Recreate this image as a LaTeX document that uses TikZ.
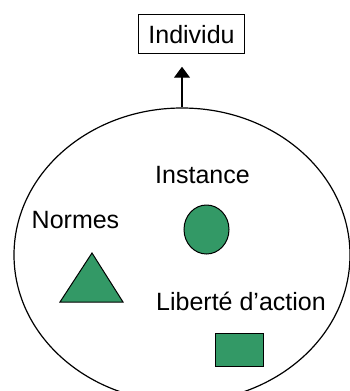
\documentclass[tikz,border=0pt]{standalone}
\usepackage{fontspec}
\setmainfont{Liberation Sans}
\usetikzlibrary{arrows.meta,shapes.geometric}
\definecolor{vert}{RGB}{51,153,102}

\begin{document}
\begin{tikzpicture}[x=1pt,y=-1pt,
		label/.style={font=\fontsize{25}{30}\selectfont,inner sep=0pt,anchor=base},
		forme/.style={draw,line width=1pt,fill=vert,inner sep=0pt}]
			\useasboundingbox (0,0) rectangle (350,391);
			% the individual and the ellipse round it
			\node[label,draw,line width=1pt,inner xsep=10pt,inner ysep=10pt] (indiv) at (191.5,43) {Individu};
			\node[draw,line width=1.2pt,ellipse,minimum width=336pt,minimum height=294pt,inner sep=0pt] (cadre) at (182,255) {};
			\draw[line width=1.2pt,-{Triangle[width=16pt,length=11pt]},shorten >=13pt] (cadre.north) -- (cadre.north |- indiv.south);
			% the three parts
			\node[label] (instance) at (202.5,183) {Instance};
			\node[label] (normes) at (75.5,228) {Normes};
			\node[label] (liberte) at (241,310) {Liberté d’action};
			% their shapes
			\node[forme,ellipse,minimum width=45pt,minimum height=49pt] (rond) at (206.5,229.5) {};
			\draw[line width=1pt,fill=vert,line join=miter] (92,253) -- (123,302) -- (60,302) -- cycle;
			\node[forme,rectangle,minimum width=48pt,minimum height=33pt] (carre) at (239,349.5) {};
		\end{tikzpicture}
\end{document}
